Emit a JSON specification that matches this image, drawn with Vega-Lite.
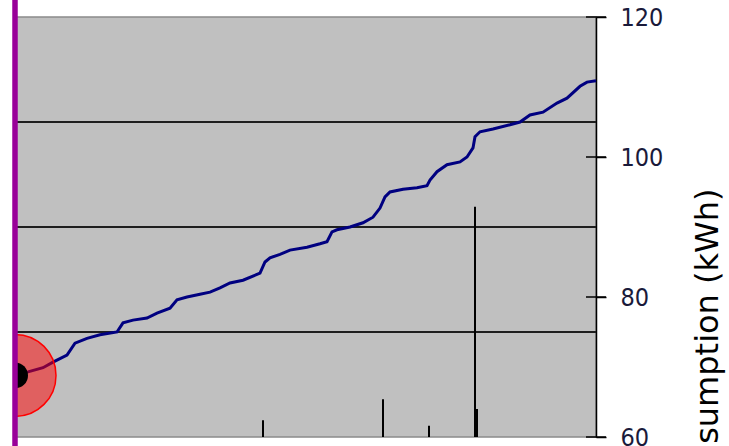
{
  "$schema": "https://vega.github.io/schema/vega-lite/v6.json",
  "width": 581,
  "height": 420,
  "autosize": {"type": "none"},
  "padding": {"left": 15, "top": 17, "right": 133, "bottom": 9},
  "background": "white",
  "config": {"view": {"fill": "#C0C0C0", "stroke": "#8a8a8a", "strokeWidth": 1.5}},
  "datasets": {
    "series": [
      {"t": 0, "v": 69.0}, {"t": 13, "v": 69.3}, {"t": 28, "v": 69.9}, {"t": 38, "v": 70.7},
      {"t": 52, "v": 71.7}, {"t": 60, "v": 73.4}, {"t": 72, "v": 74.1}, {"t": 85, "v": 74.6},
      {"t": 102, "v": 75.0}, {"t": 108, "v": 76.3}, {"t": 118, "v": 76.7}, {"t": 132, "v": 77.0},
      {"t": 142, "v": 77.7}, {"t": 155, "v": 78.4}, {"t": 162, "v": 79.6}, {"t": 172, "v": 80.0},
      {"t": 185, "v": 80.4}, {"t": 195, "v": 80.7}, {"t": 205, "v": 81.3}, {"t": 215, "v": 82.0},
      {"t": 228, "v": 82.4}, {"t": 245, "v": 83.4}, {"t": 250, "v": 85.0}, {"t": 255, "v": 85.6},
      {"t": 265, "v": 86.1}, {"t": 275, "v": 86.7}, {"t": 292, "v": 87.1}, {"t": 305, "v": 87.6},
      {"t": 312, "v": 87.9}, {"t": 317, "v": 89.3}, {"t": 322, "v": 89.6}, {"t": 335, "v": 90.0},
      {"t": 348, "v": 90.6}, {"t": 358, "v": 91.4}, {"t": 365, "v": 92.7}, {"t": 370, "v": 94.3},
      {"t": 375, "v": 95.0}, {"t": 388, "v": 95.4}, {"t": 402, "v": 95.6}, {"t": 412, "v": 95.9},
      {"t": 415, "v": 96.7}, {"t": 422, "v": 97.9}, {"t": 432, "v": 98.9}, {"t": 445, "v": 99.3},
      {"t": 452, "v": 100.0}, {"t": 458, "v": 101.3}, {"t": 460, "v": 102.9}, {"t": 465, "v": 103.6},
      {"t": 478, "v": 104.0}, {"t": 495, "v": 104.6}, {"t": 505, "v": 105.0}, {"t": 515, "v": 106.0},
      {"t": 528, "v": 106.4}, {"t": 542, "v": 107.7}, {"t": 552, "v": 108.4}, {"t": 565, "v": 110.1},
      {"t": 572, "v": 110.7}, {"t": 581, "v": 110.9}
    ],
    "grid": [{"v": 75}, {"v": 90}, {"v": 105}],
    "bars": [
      {"t": 248, "v": 60, "v2": 62.4},
      {"t": 368, "v": 60, "v2": 65.4},
      {"t": 414, "v": 60, "v2": 61.6},
      {"t": 460, "v": 60, "v2": 92.9}
    ],
    "bars2": [{"t": 461.5, "v": 60, "v2": 64.0}],
    "marker": [{"t": 0, "v": 68.8}],
    "edge": [{"t": 0, "v": 50, "v2": 125}],
    "ticks": [{"t": 581, "v": 60}, {"t": 581, "v": 80}, {"t": 581, "v": 100}, {"t": 581, "v": 120}]
  },
  "encoding": {
    "y": {
      "field": "v",
      "type": "quantitative",
      "scale": {"domain": [60, 120], "nice": false, "zero": false},
      "axis": {
        "orient": "right",
        "values": [60, 80, 100, 120],
        "grid": false,
        "domainColor": "#000000",
        "domainWidth": 1.5,
        "ticks": true,
        "tickSize": 10,
        "tickColor": "#000000",
        "tickWidth": 1.5,
        "labelFont": "DejaVu Sans Condensed, Liberation Sans",
        "labelFontSize": 25,
        "labelColor": "#1a1a3a",
        "labelPadding": 14,
        "labelFlush": false,
        "labelOverlap": false,
        "labelBaseline": "middle",
        "labelAlign": "left",
        "title": "Consumption (kWh)",
        "titleFont": "DejaVu Sans",
        "titleFontSize": 32,
        "titleFontWeight": "normal",
        "titleColor": "#000000",
        "titleAngle": 270,
        "titleAlign": "right",
        "titleBaseline": "alphabetic",
        "titleX": 121,
        "titleY": 171
      }
    }
  },
  "layer": [
    {
      "data": {"name": "grid"},
      "mark": {"type": "rule", "color": "#1e1e1e", "strokeWidth": 2},
      "encoding": {}
    },
    {
      "data": {"name": "bars"},
      "mark": {"type": "rule", "color": "#000000", "strokeWidth": 2},
      "encoding": {
        "x": {"field": "t", "type": "quantitative", "scale": {"domain": [0, 581], "nice": false, "zero": false}, "axis": null},
        "y2": {"field": "v2"}
      }
    },
    {
      "data": {"name": "bars2"},
      "mark": {"type": "rule", "color": "#000000", "strokeWidth": 3},
      "encoding": {
        "x": {"field": "t", "type": "quantitative", "axis": null},
        "y2": {"field": "v2"}
      }
    },
    {
      "data": {"name": "series"},
      "mark": {"type": "line", "color": "#000080", "strokeWidth": 3, "interpolate": "linear"},
      "encoding": {
        "x": {"field": "t", "type": "quantitative", "axis": null}
      }
    },
    {
      "data": {"name": "marker"},
      "mark": {"type": "circle", "size": 6724, "fill": "#ff0000", "fillOpacity": 0.5, "stroke": "#ff0000", "strokeWidth": 1.5, "strokeOpacity": 1, "opacity": 1, "clip": true},
      "encoding": {
        "x": {"field": "t", "type": "quantitative", "axis": null}
      }
    },
    {
      "data": {"name": "marker"},
      "mark": {"type": "circle", "size": 676, "color": "#000000", "opacity": 1, "clip": true},
      "encoding": {
        "x": {"field": "t", "type": "quantitative", "axis": null}
      }
    },
    {
      "data": {"name": "edge"},
      "mark": {"type": "rule", "color": "#990099", "strokeWidth": 5.5},
      "encoding": {
        "x": {"field": "t", "type": "quantitative", "axis": null},
        "y2": {"field": "v2"}
      }
    },
    {
      "data": {"name": "ticks"},
      "mark": {"type": "tick", "orient": "horizontal", "color": "#000000", "size": 20, "thickness": 1.5, "opacity": 1},
      "encoding": {
        "x": {"field": "t", "type": "quantitative", "axis": null}
      }
    }
  ]
}
